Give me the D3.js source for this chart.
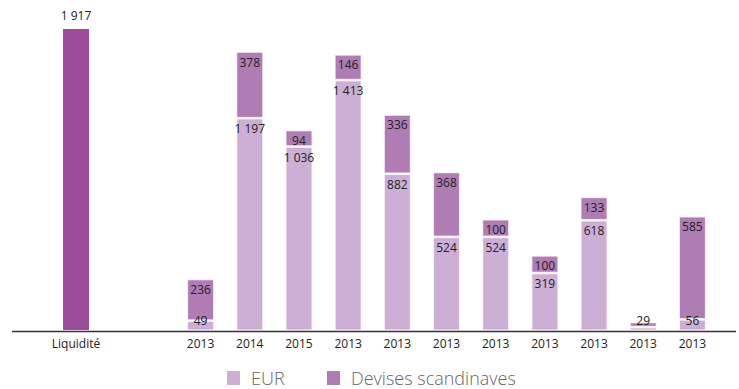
<!DOCTYPE html>
<html>
<head>
<meta charset="utf-8">
<script src="https://cdn.jsdelivr.net/npm/d3@7"></script>
<style>
  body { margin: 0; background: #fff; }
  svg text { font-family: "Open Sans", sans-serif; }
</style>
</head>
<body>
<svg id="chart" width="739" height="389"></svg>
<script>
'use strict';

// data
var liquidityLabel = 'Liquidité',
    liquidityValue = 1917,
    years = ['2013', '2014', '2015', '2013', '2013', '2013', '2013', '2013', '2013', '2013', '2013'],
    eurValues = [49, 1197, 1036, 1413, 882, 524, 524, 319, 618, 12, 56],
    scandValues = [236, 378, 94, 146, 336, 368, 100, 100, 133, 29, 585],
    legendLabels = ['EUR', 'Devises scandinaves'];

var colors = { eur: '#cdaed4', scand: '#b07cb4', liq: '#9b4d9b' },
    fmt = function(v) { return d3.format(',')(v).replace(/,/g, ' '); },
    svg = d3.select('#chart'),
    baseY = 330;

var x = d3.scaleBand()
        .domain(d3.range(years.length))
        .range([176, 717])
        .paddingInner(0.47)
        .paddingOuter(0.235),
    xLiq = d3.scaleBand()
        .domain([liquidityLabel])
        .range([63, 89]),
    y = d3.scaleLinear()
        .domain([0, 1575])
        .range([baseY, 52.3]),
    yLiq = d3.scaleLinear()
        .domain([0, liquidityValue])
        .range([baseY, 29]);

// liquidity bar (own scale)
svg.append('rect')
    .attr('x', xLiq(liquidityLabel))
    .attr('width', xLiq.bandwidth())
    .attr('y', yLiq(liquidityValue))
    .attr('height', baseY - yLiq(liquidityValue))
    .attr('fill', colors.liq);

svg.append('text')
    .attr('x', xLiq(liquidityLabel) + xLiq.bandwidth() / 2)
    .attr('y', yLiq(liquidityValue) - 13)
    .attr('dy', '0.35em')
    .attr('text-anchor', 'middle')
    .attr('font-size', 12)
    .attr('fill', '#222')
    .text(fmt(liquidityValue));

// stacked bars
var rows = years.map(function(yr, i) {
    return { i: i, eur: eurValues[i], scand: scandValues[i] };
});

var g = svg.selectAll('.bar')
    .data(rows)
    .enter().append('g')
    .attr('class', 'bar');

g.append('rect')
    .attr('x', function(d) { return x(d.i); })
    .attr('width', x.bandwidth())
    .attr('y', function(d) { return y(d.eur); })
    .attr('height', function(d) { return baseY - y(d.eur); })
    .attr('fill', colors.eur)
    .attr('stroke', 'rgba(255,255,255,0.7)')
    .attr('stroke-width', 1.2);

g.append('rect')
    .attr('x', function(d) { return x(d.i); })
    .attr('width', x.bandwidth())
    .attr('y', function(d) { return y(d.eur + d.scand); })
    .attr('height', function(d) { return y(d.eur) - y(d.eur + d.scand) - 1.5; })
    .attr('fill', colors.scand)
    .attr('stroke', 'rgba(255,255,255,0.7)')
    .attr('stroke-width', 1.2);

// segment labels
function labelY(top) { return Math.min(top + 10, 321); }

g.append('text')
    .attr('x', function(d) { return x(d.i) + x.bandwidth() / 2; })
    .attr('y', function(d) { return labelY(y(d.eur + d.scand)); })
    .attr('dy', '0.35em')
    .attr('text-anchor', 'middle')
    .attr('font-size', 12)
    .attr('fill', '#222')
    .text(function(d) { return fmt(d.scand); });

g.filter(function(d) { return d.eur >= 20; })
    .append('text')
    .attr('x', function(d) { return x(d.i) + x.bandwidth() / 2; })
    .attr('y', function(d) { return labelY(y(d.eur)); })
    .attr('dy', '0.35em')
    .attr('text-anchor', 'middle')
    .attr('font-size', 12)
    .attr('fill', '#222')
    .text(function(d) { return fmt(d.eur); });

// axis line + tick labels
svg.append('line')
    .attr('x1', 12).attr('x2', 736)
    .attr('y1', 331.5).attr('y2', 331.5)
    .attr('stroke', '#333')
    .attr('stroke-width', 1.3);

svg.selectAll('.tick')
    .data(years)
    .enter().append('text')
    .attr('class', 'tick')
    .attr('x', function(d, i) { return x(i) + x.bandwidth() / 2; })
    .attr('y', 344)
    .attr('dy', '0.35em')
    .attr('text-anchor', 'middle')
    .attr('font-size', 12)
    .attr('fill', '#222')
    .text(function(d) { return d; });

svg.append('text')
    .attr('x', xLiq(liquidityLabel) + xLiq.bandwidth() / 2)
    .attr('y', 344)
    .attr('dy', '0.35em')
    .attr('text-anchor', 'middle')
    .attr('font-size', 12)
    .attr('fill', '#222')
    .text(liquidityLabel);

// legend
var legendX = [227, 327],
    legendColors = [colors.eur, colors.scand];

var lg = svg.selectAll('.legend')
    .data(legendLabels)
    .enter().append('g')
    .attr('class', 'legend')
    .attr('transform', function(d, i) { return 'translate(' + legendX[i] + ',371)'; });

lg.append('rect')
    .attr('width', 13)
    .attr('height', 14)
    .attr('fill', function(d, i) { return legendColors[i]; });

lg.append('text')
    .attr('x', 24)
    .attr('y', 8)
    .attr('dy', '0.35em')
    .attr('font-size', 18)
    .attr('font-weight', 300)
    .attr('fill', '#666')
    .text(function(d) { return d; });
</script>
</body>
</html>
